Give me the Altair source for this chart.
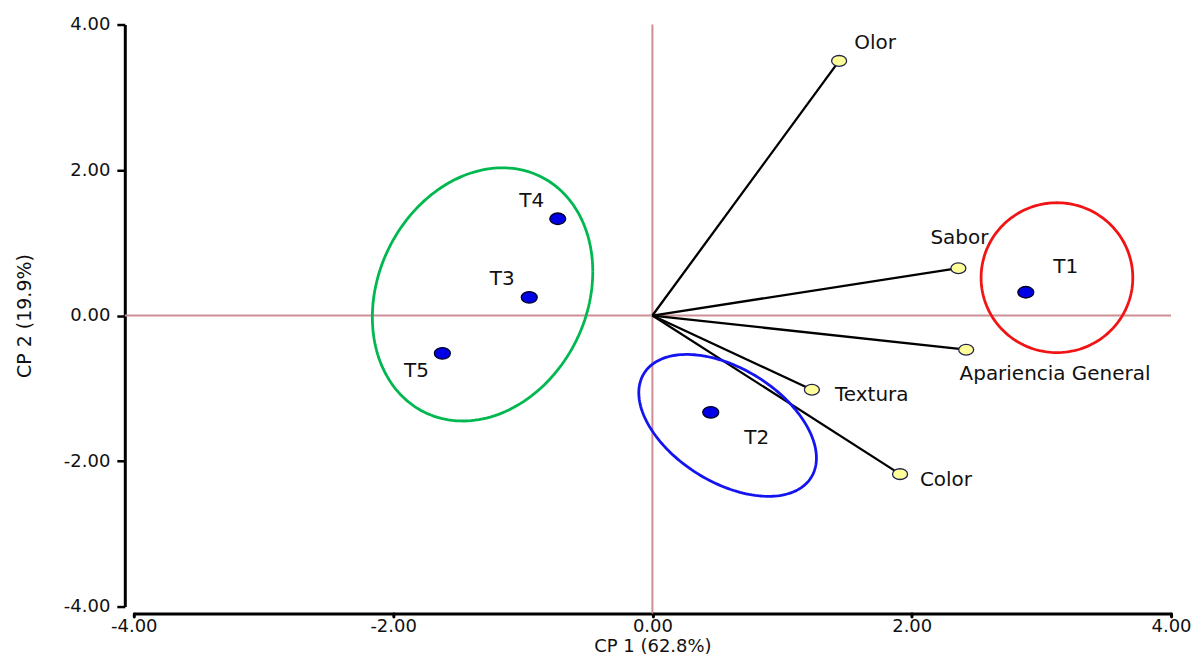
import altair as alt
import numpy as np
import pandas as pd

# ---------------- data ----------------
treatments = ["T1", "T2", "T3", "T4", "T5"]
treat_cp1 = [2.88, 0.45, -0.95, -0.73, -1.62]
treat_cp2 = [0.32, -1.33, 0.25, 1.33, -0.52]

variables = ["Olor", "Sabor", "Apariencia General", "Textura", "Color"]
var_cp1 = [1.44, 2.36, 2.42, 1.23, 1.91]
var_cp2 = [3.50, 0.65, -0.47, -1.02, -2.18]

groups = ["T3-T5", "T2", "T1"]
ell_cx = [-1.31, 0.58, 3.12]
ell_cy = [0.29, -1.51, 0.52]
ell_hx = [0.85, 0.685, 0.585]
ell_hy = [1.74, 0.975, 1.03]
ell_rho = [0.18, -0.46, 0.0]

axis_ticks = [-4, -2, 0, 2, 4]
x_title = "CP 1 (62.8%)"
y_title = "CP 2 (19.9%)"

# ---------------- styles ----------------
W, H = 1039, 583
FONT = "DejaVu Sans"
PINK = "#cc8f93"
ell_colors = ["#00b84f", "#1414f0", "#f01414"]
label_offsets = {
    "Olor": (36, -18), "Sabor": (1, -30), "Apariencia General": (89, 24),
    "Textura": (60, 5), "Color": (46, 6),
    "T1": (40, -25), "T2": (46, 26), "T3": (-27, -18), "T4": (-26, -18), "T5": (-26, 18),
}
ELL_SHAPE = "M-1,0A1,0.72,0,1,1,1,0A1,0.72,0,1,1,-1,0Z"

df_t = pd.DataFrame({"name": treatments, "cp1": treat_cp1, "cp2": treat_cp2})
df_v = pd.DataFrame({"name": variables, "cp1": var_cp1, "cp2": var_cp2,
                     "x0": [0.0] * len(variables), "y0": [0.0] * len(variables)})

rows = []
tt = np.linspace(0, 2 * np.pi, 181)
for g, cx, cy, hx, hy, r in zip(groups, ell_cx, ell_cy, ell_hx, ell_hy, ell_rho):
    for i, t in enumerate(tt):
        rows.append({"group": g, "i": i,
                     "cp1": cx + hx * np.cos(t),
                     "cp2": cy + hy * (r * np.cos(t) + np.sqrt(1 - r * r) * np.sin(t))})
df_e = pd.DataFrame(rows)

lbl_expr = "replace(format(datum.value, '.2f'), '\u2212', '-')"
xs = alt.Scale(domain=[-4, 4], nice=False, zero=False)
ys = alt.Scale(domain=[-4, 4], nice=False, zero=False)

x_axis = alt.Axis(values=axis_ticks, title=x_title, labelExpr=lbl_expr, grid=False,
                  offset=7, domainColor="black", domainWidth=3, tickColor="black",
                  tickWidth=3, tickSize=3, tickCap="round", labelFont=FONT,
                  labelFontSize=18, labelColor="#111111", labelPadding=10,
                  labelBaseline="middle", labelFlush=False, labelOverlap=False,
                  titleFont=FONT, titleFontSize=18, titleFontWeight="normal",
                  titleColor="#111111", titleY=38, titleBaseline="alphabetic")
y_axis = alt.Axis(values=axis_ticks, title=y_title, labelExpr=lbl_expr, grid=False,
                  offset=9, domainColor="black", domainWidth=3, tickColor="black",
                  tickWidth=2.5, tickSize=8, labelFont=FONT, labelFontSize=18,
                  labelColor="#111111", labelPadding=7, labelFlush=False,
                  labelOverlap=False, titleFont=FONT, titleFontSize=19,
                  titleFontWeight="normal", titleColor="#111111", titleX=-100,
                  titleY=H / 2, titleBaseline="middle", titleAlign="center", titleAngle=270)


def X(f):
    return alt.X(f, type="quantitative", scale=xs, axis=x_axis)


def Y(f):
    return alt.Y(f, type="quantitative", scale=ys, axis=y_axis)


h_rule = alt.Chart(pd.DataFrame({"v": [0.0]})).mark_rule(color=PINK, strokeWidth=2).encode(
    y=Y("v"), x=alt.value(-9), x2=alt.value(W))
v_rule = alt.Chart(pd.DataFrame({"v": [0.0]})).mark_rule(color=PINK, strokeWidth=2).encode(
    x=X("v"), y=alt.value(0), y2=alt.value(H + 7))

vectors = alt.Chart(df_v).mark_rule(color="black", strokeWidth=2.3).encode(
    x=X("x0"), y=Y("y0"), x2="cp1", y2="cp2")

ellipses = alt.Chart(df_e).mark_line(strokeWidth=2.8).encode(
    x=X("cp1"), y=Y("cp2"), order="i:Q",
    color=alt.Color("group:N", scale=alt.Scale(domain=groups, range=ell_colors), legend=None))

var_pts = alt.Chart(df_v).mark_point(shape=ELL_SHAPE, size=225, fill="#ffff99", stroke="#22224a",
                                     strokeWidth=1.3, opacity=1, fillOpacity=1).encode(
    x=X("cp1"), y=Y("cp2"))
trt_pts = alt.Chart(df_t).mark_point(shape=ELL_SHAPE, size=256, fill="#0000e6", stroke="#000022",
                                     strokeWidth=1.3, opacity=1, fillOpacity=1).encode(
    x=X("cp1"), y=Y("cp2"))

labels = []
for df in (df_v, df_t):
    for n in df["name"]:
        dx, dy = label_offsets[n]
        labels.append(
            alt.Chart(df).transform_filter(alt.datum.name == n).mark_text(
                dx=dx, dy=dy, align="center", baseline="middle", font=FONT,
                fontSize=20, color="#111111").encode(x=X("cp1"), y=Y("cp2"), text="name:N"))

chart = alt.layer(h_rule, v_rule, vectors, ellipses, var_pts, trt_pts, *labels).properties(
    width=W, height=H,
    autosize=alt.AutoSizeParams(type="none"),
    padding={"left": 126, "top": 16, "right": 22, "bottom": 50},
    background="white",
).configure_view(stroke=None)

chart.save("out.html", embed_options={"renderer": "svg", "actions": False})
